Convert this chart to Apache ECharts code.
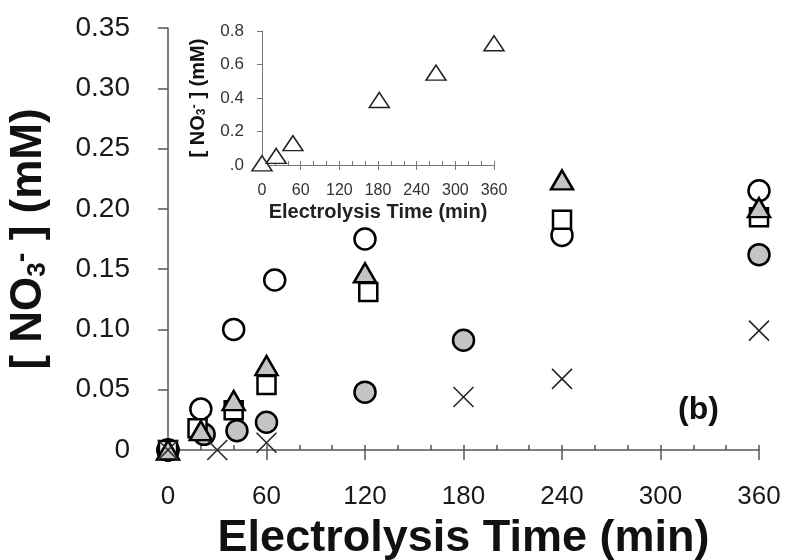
<!DOCTYPE html>
<html>
<head>
<meta charset="utf-8">
<script src="https://cdn.jsdelivr.net/npm/echarts@6/dist/echarts.min.js"></script>
<style>
  html, body { margin: 0; padding: 0; background: #fff; }
  #main { width: 790px; height: 560px; }
</style>
</head>
<body>
<div id="main"></div>
<script>
var myChart = echarts.init(document.getElementById('main'));

// main plot, time (min) and [NO3-] (mM)
var openCircleT = [0, 20, 40, 65, 120, 240, 360];
var openCircleY = [0, 0.034, 0.100, 0.141, 0.175, 0.178, 0.215];
var greyTriT = [0, 20, 40, 60, 120, 240, 360];
var greyTriY = [0, 0.016, 0.041, 0.070, 0.147, 0.224, 0.201];
var openSquareT = [0, 18, 40, 60, 122, 240, 360];
var openSquareY = [0, 0.018, 0.033, 0.054, 0.131, 0.191, 0.193];
var greyCircleT = [0, 22, 42, 60, 120, 180, 360];
var greyCircleY = [0, 0.013, 0.016, 0.023, 0.048, 0.091, 0.162];
var crossT = [0, 30, 60, 180, 240, 360];
var crossY = [0, 0, 0.006, 0.044, 0.059, 0.099];

// inset
var insetT = [0, 22, 48, 182, 270, 360];
var insetY = [0.01, 0.054, 0.13, 0.388, 0.551, 0.727];

var FONT = 'Arial, "Liberation Sans", sans-serif';
var AXIS_COLOR = '#555';

var pairs = function (xs, ys) {
    var res = [];
    for (var i = 0; i < xs.length; i++) {
        res.push([xs[i], ys[i]]);
    }
    return res;
};

var yName = function (size) {
    return {
        base: { fontFamily: FONT, fontWeight: 'bold', fontSize: size, color: '#111' },
        sub: { fontFamily: FONT, fontWeight: 'bold', fontSize: Math.round(size * 0.6), color: '#111',
               verticalAlign: 'bottom', lineHeight: Math.round(size * 0.6) },
        sup: { fontFamily: FONT, fontWeight: 'bold', fontSize: Math.round(size * 0.65), color: '#111',
               verticalAlign: 'top', lineHeight: Math.round(size * 0.65) }
    };
};

option = {
    backgroundColor: '#fff',
    animation: false,
    grid: [
        { left: 168, top: 28, width: 591, height: 422, outerBoundsMode: 'none' },
        { left: 262, top: 31, width: 232, height: 134, outerBoundsMode: 'none' }
    ],
    xAxis: [
        {
            gridIndex: 0, type: 'value', min: 0, max: 360, interval: 60,
            position: 'bottom',
            name: 'Electrolysis Time (min)', nameLocation: 'middle', nameGap: 66,
            nameTextStyle: { fontFamily: FONT, fontWeight: 'bold', fontSize: 45, color: '#111' },
            axisLine: { lineStyle: { color: AXIS_COLOR, width: 1.5 } },
            axisTick: { inside: false, length: 10, lineStyle: { color: AXIS_COLOR, width: 1.5 } },
            axisLabel: { margin: 34, fontFamily: FONT, fontSize: 26, color: '#1a1a1a' },
            splitLine: { show: false }
        },
        {
            // minor ticks pointing up
            gridIndex: 0, type: 'value', min: 0, max: 360, interval: 20,
            position: 'bottom',
            axisLine: { show: false },
            axisTick: { inside: true, length: 5, lineStyle: { color: AXIS_COLOR, width: 1.5 } },
            axisLabel: { show: false },
            splitLine: { show: false }
        },
        {
            gridIndex: 1, type: 'value', min: 0, max: 360, interval: 60,
            position: 'bottom',
            name: 'Electrolysis Time (min)', nameLocation: 'middle', nameGap: 37,
            nameTextStyle: { fontFamily: FONT, fontWeight: 'bold', fontSize: 20, color: '#222' },
            axisLine: { lineStyle: { color: '#777', width: 1 } },
            axisTick: { inside: false, length: 5, lineStyle: { color: '#777', width: 1 } },
            axisLabel: { margin: 18, fontFamily: FONT, fontSize: 16, color: '#333' },
            splitLine: { show: false }
        },
        {
            gridIndex: 1, type: 'value', min: 0, max: 360, interval: 20,
            position: 'bottom',
            axisLine: { show: false },
            axisTick: { inside: true, length: 4, lineStyle: { color: '#777', width: 1 } },
            axisLabel: { show: false },
            splitLine: { show: false }
        }
    ],
    yAxis: [
        {
            gridIndex: 0, type: 'value', min: 0, max: 0.35, interval: 0.05,
            name: '{base|[ NO}{sub|3}{sup|-}{base| ] (mM)}',
            nameLocation: 'middle', nameGap: 117, nameRotate: 90,
            nameTextStyle: { rich: yName(44) },
            axisLine: { lineStyle: { color: AXIS_COLOR, width: 1.5 } },
            axisTick: { inside: false, length: 10, lineStyle: { color: AXIS_COLOR, width: 1.5 } },
            axisLabel: {
                margin: 38, fontFamily: FONT, fontSize: 28, color: '#1a1a1a',
                formatter: function (v) { return v === 0 ? '0' : v.toFixed(2); }
            },
            splitLine: { show: false }
        },
        {
            gridIndex: 1, type: 'value', min: 0, max: 0.8, interval: 0.2,
            name: '{base|[ NO}{sub|3}{sup|-}{base| ] (mM)}',
            nameLocation: 'middle', nameGap: 54, nameRotate: 90,
            nameTextStyle: { rich: yName(20) },
            axisLine: { lineStyle: { color: '#777', width: 1 } },
            axisTick: { inside: false, length: 5, lineStyle: { color: '#777', width: 1 } },
            axisLabel: {
                margin: 18, fontFamily: FONT, fontSize: 17, color: '#333',
                formatter: function (v) { return v === 0 ? '.0' : v.toFixed(1); }
            },
            splitLine: { show: false }
        }
    ],
    graphic: [
        {
            type: 'text', left: 678, top: 394,
            style: { text: '(b)', fontFamily: FONT, fontWeight: 'bold', fontSize: 32, fill: '#111' }
        }
    ],
    series: [
        {
            name: 'open circle', type: 'scatter', xAxisIndex: 0, yAxisIndex: 0,
            symbol: 'circle', symbolSize: 21,
            itemStyle: { color: '#fff', borderColor: '#000', borderWidth: 2.5, opacity: 1 },
            data: pairs(openCircleT, openCircleY)
        },
        {
            name: 'grey circle', type: 'scatter', xAxisIndex: 0, yAxisIndex: 0,
            symbol: 'circle', symbolSize: 21,
            itemStyle: { color: '#c4c4c4', borderColor: '#000', borderWidth: 2.5, opacity: 1 },
            data: pairs(greyCircleT, greyCircleY)
        },
        {
            name: 'open square', type: 'scatter', xAxisIndex: 0, yAxisIndex: 0,
            symbol: 'rect', symbolSize: 18,
            itemStyle: { color: '#fff', borderColor: '#000', borderWidth: 2.5, opacity: 1 },
            data: pairs(openSquareT, openSquareY)
        },
        {
            name: 'grey triangle', type: 'scatter', xAxisIndex: 0, yAxisIndex: 0,
            symbol: 'triangle', symbolSize: [22, 19],
            itemStyle: { color: '#c4c4c4', borderColor: '#000', borderWidth: 2.5, opacity: 1 },
            data: pairs(greyTriT, greyTriY)
        },
        {
            name: 'cross', type: 'scatter', xAxisIndex: 0, yAxisIndex: 0,
            symbol: 'path://M0,0L10,10M10,0L0,10', symbolSize: 20,
            itemStyle: { color: 'none', borderColor: '#222', borderWidth: 1.5, opacity: 1 },
            data: pairs(crossT, crossY)
        },
        {
            name: 'inset', type: 'scatter', xAxisIndex: 2, yAxisIndex: 1,
            symbol: 'triangle', symbolSize: [20, 15],
            itemStyle: { color: '#fff', borderColor: '#222', borderWidth: 1.5, opacity: 1 },
            data: pairs(insetT, insetY)
        }
    ]
};

myChart.setOption(option);
</script>
</body>
</html>
